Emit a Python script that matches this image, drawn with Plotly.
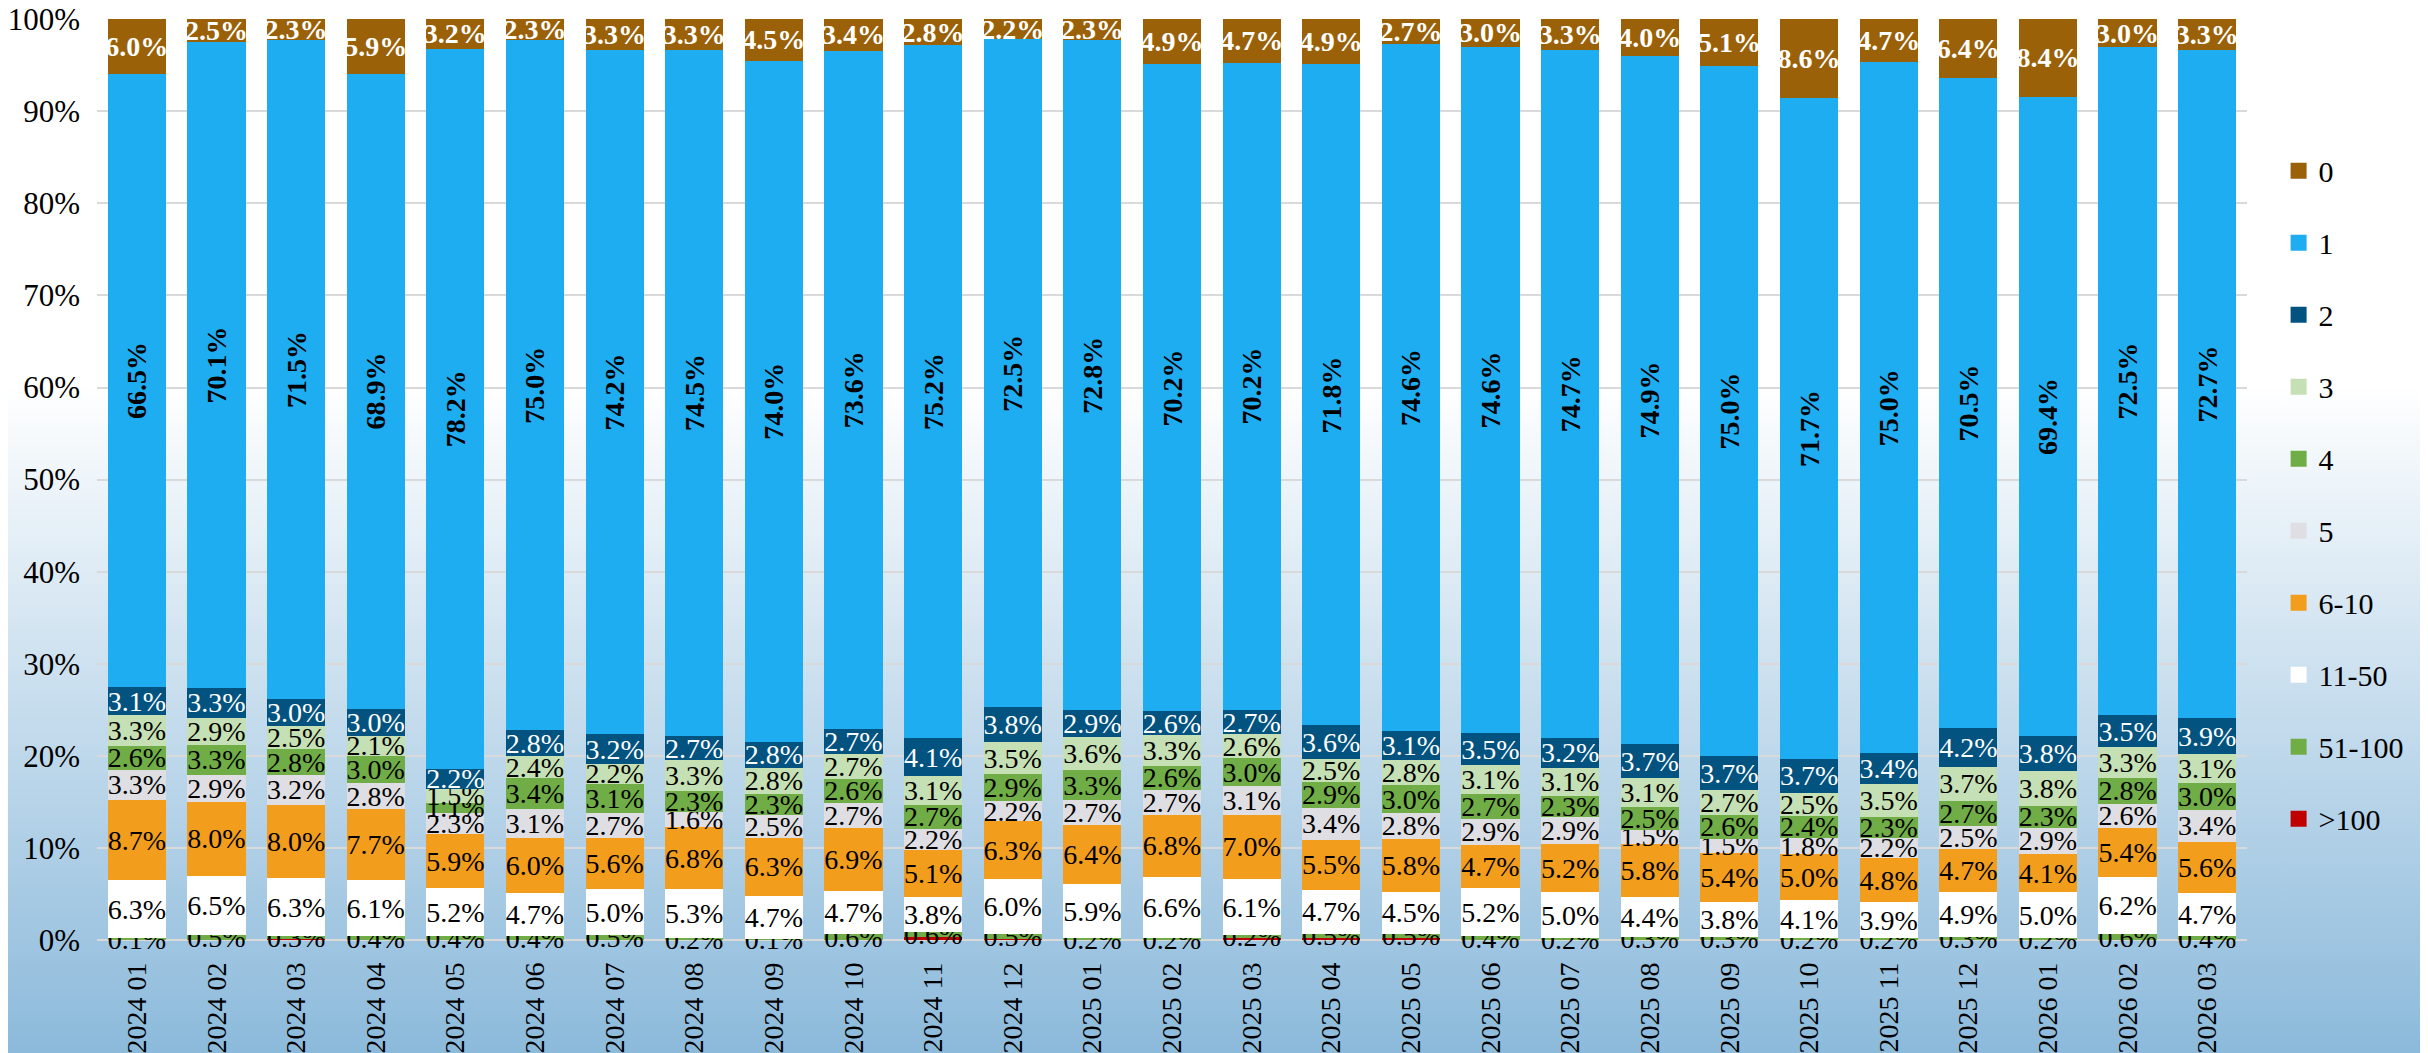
import base64
import plotly.graph_objects as go

months = ["2024 01", "2024 02", "2024 03", "2024 04", "2024 05", "2024 06", "2024 07", "2024 08",
          "2024 09", "2024 10", "2024 11", "2024 12", "2025 01", "2025 02", "2025 03", "2025 04",
          "2025 05", "2025 06", "2025 07", "2025 08", "2025 09", "2025 10", "2025 11", "2025 12",
          "2026 01", "2026 02", "2026 03"]

v_gt100 = [0.1, 0.0, 0.1, 0.0, 0.0, 0.0, 0.0, 0.0, 0.0, 0.0, 0.3, 0.1, 0.0, 0.0, 0.3, 0.2,
           0.2, 0.0, 0.0, 0.0, 0.0, 0.0, 0.0, 0.0, 0.0, 0.0, 0.0]
v_51_100 = [0.1, 0.5, 0.3, 0.4, 0.4, 0.4, 0.5, 0.2, 0.1, 0.6, 0.6, 0.5, 0.2, 0.2, 0.2, 0.5,
            0.5, 0.4, 0.2, 0.3, 0.3, 0.2, 0.2, 0.3, 0.2, 0.6, 0.4]
v_11_50 = [6.3, 6.5, 6.3, 6.1, 5.2, 4.7, 5.0, 5.3, 4.7, 4.7, 3.8, 6.0, 5.9, 6.6, 6.1, 4.7,
           4.5, 5.2, 5.0, 4.4, 3.8, 4.1, 3.9, 4.9, 5.0, 6.2, 4.7]
v_6_10 = [8.7, 8.0, 8.0, 7.7, 5.9, 6.0, 5.6, 6.8, 6.3, 6.9, 5.1, 6.3, 6.4, 6.8, 7.0, 5.5,
          5.8, 4.7, 5.2, 5.8, 5.4, 5.0, 4.8, 4.7, 4.1, 5.4, 5.6]
v_5 = [3.3, 2.9, 3.2, 2.8, 2.3, 3.1, 2.7, 1.6, 2.5, 2.7, 2.2, 2.2, 2.7, 2.7, 3.1, 3.4,
       2.8, 2.9, 2.9, 1.5, 1.5, 1.8, 2.2, 2.5, 2.9, 2.6, 3.4]
v_4 = [2.6, 3.3, 2.8, 3.0, 1.1, 3.4, 3.1, 2.3, 2.3, 2.6, 2.7, 2.9, 3.3, 2.6, 3.0, 2.9,
       3.0, 2.7, 2.3, 2.5, 2.6, 2.4, 2.3, 2.7, 2.3, 2.8, 3.0]
v_3 = [3.3, 2.9, 2.5, 2.1, 1.5, 2.4, 2.2, 3.3, 2.8, 2.7, 3.1, 3.5, 3.6, 3.3, 2.6, 2.5,
       2.8, 3.1, 3.1, 3.1, 2.7, 2.5, 3.5, 3.7, 3.8, 3.3, 3.1]
v_2 = [3.1, 3.3, 3.0, 3.0, 2.2, 2.8, 3.2, 2.7, 2.8, 2.7, 4.1, 3.8, 2.9, 2.6, 2.7, 3.6,
       3.1, 3.5, 3.2, 3.7, 3.7, 3.7, 3.4, 4.2, 3.8, 3.5, 3.9]
v_1 = [66.5, 70.1, 71.5, 68.9, 78.2, 75.0, 74.2, 74.5, 74.0, 73.6, 75.2, 72.5, 72.8, 70.2,
       70.2, 71.8, 74.6, 74.6, 74.7, 74.9, 75.0, 71.7, 75.0, 70.5, 69.4, 72.5, 72.7]
v_0 = [6.0, 2.5, 2.3, 5.9, 3.2, 2.3, 3.3, 3.3, 4.5, 3.4, 2.8, 2.2, 2.3, 4.9, 4.7, 4.9,
       2.7, 3.0, 3.3, 4.0, 5.1, 8.6, 4.7, 6.4, 8.4, 3.0, 3.3]

y_ticks = [0, 10, 20, 30, 40, 50, 60, 70, 80, 90, 100]

FONT = "Liberation Serif"
LBL = 28

# (name, values, color, label color, bold, angle, show label) bottom -> top
series = [
    (">100", v_gt100, "#C00000", "black", False, 0, False),
    ("51-100", v_51_100, "#70AD47", "black", False, 0, True),
    ("11-50", v_11_50, "#FFFFFF", "black", False, 0, True),
    ("6-10", v_6_10, "#F29E1C", "black", False, 0, True),
    ("5", v_5, "#DFDFE3", "black", False, 0, True),
    ("4", v_4, "#70AD47", "black", False, 0, True),
    ("3", v_3, "#C5E0B4", "black", False, 0, True),
    ("2", v_2, "#02537F", "white", False, 0, True),
    ("1", v_1, "#1FADF2", "black", True, -90, True),
    ("0", v_0, "#9A6108", "white", True, 0, True),
]

fig = go.Figure()
for name, vals, color, tcolor, bold, ang, show in series:
    txt = [f"{v:.1f}%" for v in vals] if show else None
    fig.add_trace(go.Bar(
        x=months, y=vals, name=name, marker=dict(color=color, line=dict(width=0)),
        text=txt, textposition="inside" if show else "none",
        insidetextanchor="middle", textangle=ang, constraintext="none",
        textfont=dict(family=FONT, size=LBL, color=tcolor,
                      weight="bold" if bold else "normal"),
        cliponaxis=False, showlegend=False, hoverinfo="x+y+name",
    ))

# legend entries (top -> bottom)
for name, vals, color, tcolor, bold, ang, show in reversed(series):
    fig.add_trace(go.Scatter(
        x=[None], y=[None], mode="markers", name=name, legendgroup=name,
        marker=dict(symbol="square", size=16, color=color, line=dict(width=0)),
        showlegend=True, hoverinfo="skip",
    ))

# page body has an 8px margin, so the figure is 8px smaller than the window
W, H = 2420, 1045
ml, mr, mt, mb = 89, 181, 11, 113
pw, ph = W - ml - mr, H - mt - mb

svg = (f"<svg xmlns='http://www.w3.org/2000/svg' width='{W}' height='{H}' preserveAspectRatio='none'>"
       "<defs><linearGradient id='g' x1='0' y1='0' x2='0' y2='1'>"
       "<stop offset='0' stop-color='#ffffff'/><stop offset='0.36' stop-color='#ffffff'/>"
       "<stop offset='0.62' stop-color='#cfe2f0'/><stop offset='1' stop-color='#8cbadb'/>"
       f"</linearGradient></defs><rect width='{W}' height='{H}' fill='url(#g)'/></svg>")
src = "data:image/svg+xml;base64," + base64.b64encode(svg.encode()).decode()

fig.update_layout(
    width=W, height=H, autosize=False,
    margin=dict(l=ml, r=mr, t=mt, b=mb, pad=0, autoexpand=False),
    barmode="stack", barnorm="percent", bargap=0.27,
    paper_bgcolor="white", plot_bgcolor="rgba(0,0,0,0)",
    font=dict(family=FONT, size=28, color="black"),
    images=[dict(source=src, xref="paper", yref="paper",
                 x=-ml / pw, y=1 + mt / ph, sizex=W / pw, sizey=H / ph,
                 xanchor="left", yanchor="top", sizing="stretch", layer="below")],
    legend=dict(x=1.0147, y=0.8635, xanchor="left", yanchor="top",
                font=dict(family=FONT, size=30, color="black"),
                bgcolor="rgba(0,0,0,0)", traceorder="grouped", tracegroupgap=30,
                itemclick=False, itemdoubleclick=False),
    showlegend=True,
)
fig.update_xaxes(type="category", categoryorder="array", categoryarray=months,
                 tickangle=-90, tickfont=dict(family=FONT, size=28), showgrid=False,
                 showline=False, ticks="", ticklabelstandoff=16, automargin=False,
                 ticklabeloverflow="allow")
fig.update_yaxes(range=[0, 100.02], tickvals=y_ticks, ticktext=[f"{t}%" for t in y_ticks],
                 tickfont=dict(family=FONT, size=31), showgrid=True, gridcolor="#D9D9D9",
                 gridwidth=2, zeroline=True, zerolinecolor="#D9D9D9", zerolinewidth=2,
                 showline=False, ticks="", ticklabelstandoff=16, automargin=False,
                 ticklabeloverflow="allow")

fig.write_html("out.html")
